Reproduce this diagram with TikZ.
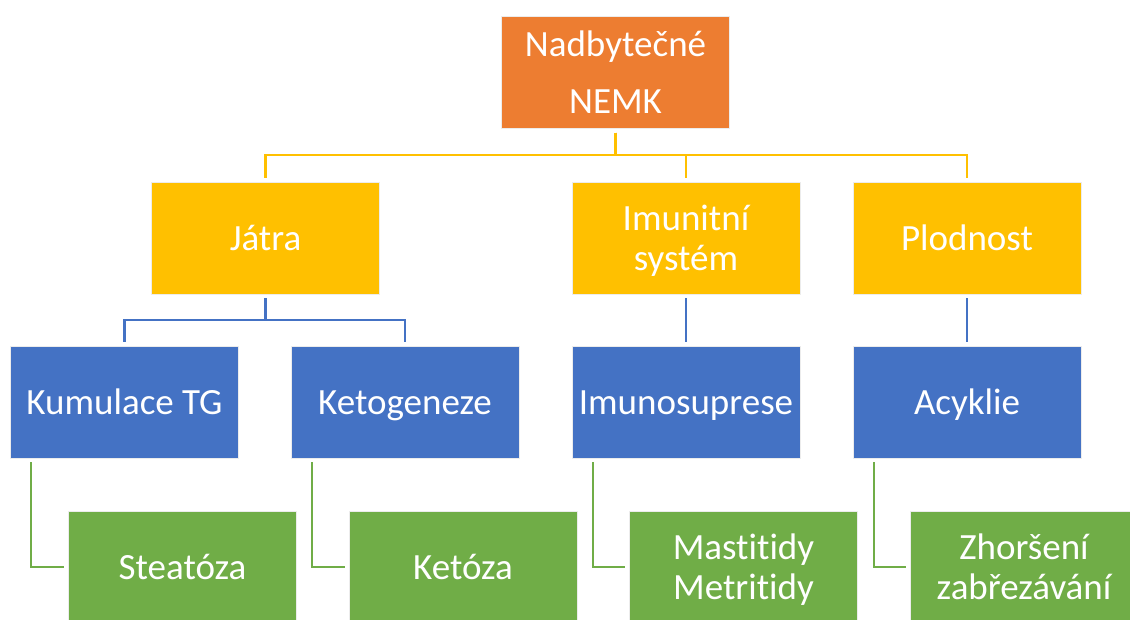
\documentclass[tikz,border=0pt]{standalone}
\usepackage{fontspec}
\setmainfont{Carlito}[Ligatures=NoCommon]
\usepackage{xcolor}
\usetikzlibrary{positioning}

\definecolor{orangeA}{HTML}{ED7D31}
\definecolor{yellowA}{HTML}{FFC000}
\definecolor{blueA}{HTML}{4472C4}
\definecolor{greenA}{HTML}{70AD47}

\begin{document}
\begin{tikzpicture}
                [x=1pt, y=-1pt,
                box/.style={draw=white!85!gray, line width=0.4pt, text=white,
                    minimum width=228pt, minimum height=112pt, inner sep=2pt,
                    text height=24pt, text depth=0pt,
                    align=center, font=\fontsize{37}{40}\selectfont},
                twolines/.style={text height=64pt},
                link/.style={line width=2.2pt, shorten <=4pt, shorten >=4pt},
                ]
                \clip (0,0) rectangle (1130,619);

                % top level
                \node[box, fill=orangeA, text height=81pt] (top) at (615.5,72.5) {Nadbytečné\\[17pt]NEMK};

                % second level
                \node[box, fill=yellowA] (jatra) at (265.5,238) {Játra};
                \node[box, twolines, fill=yellowA] (imun) at (686,238) {Imunitní\\systém};
                \node[box, fill=yellowA] (plod) at (967,238) {Plodnost};

                % third level
                \node[box, fill=blueA] (kum) at (124.5,402) {Kumulace TG};
                \node[box, fill=blueA] (keto) at (405,402) {Ketogeneze};
                \node[box, fill=blueA] (imsup) at (686,402) {Imunosuprese};
                \node[box, fill=blueA] (acyk) at (967,402) {Acyklie};

                % fourth level
                \node[box, fill=greenA] (steat) at (182.5,567) {Steatóza};
                \node[box, fill=greenA] (ketoz) at (463,567) {Ketóza};
                \node[box, twolines, fill=greenA] (mast) at (743.5,567) {Mastitidy\\Metritidy};
                \node[box, twolines, fill=greenA] (zhor) at (1024,567) {Zhoršení\\zabřezávání};

                \draw[link, yellowA] (top.south) -- ++(0,26) -| (jatra.north);
                \draw[link, yellowA] (top.south) -- ++(0,26) -| (imun.north);
                \draw[link, yellowA] (top.south) -- ++(0,26) -| (plod.north);

                \draw[link, blueA] (jatra.south) -- ++(0,26) -| (kum.north);
                \draw[link, blueA] (jatra.south) -- ++(0,26) -| (keto.north);
                \draw[link, blueA] (imun.south) -- (imsup.north);
                \draw[link, blueA] (plod.south) -- (acyk.north);

                \draw[link, greenA] ([xshift=21pt]kum.south west) |- (steat.west);
                \draw[link, greenA] ([xshift=21pt]keto.south west) |- (ketoz.west);
                \draw[link, greenA] ([xshift=21pt]imsup.south west) |- (mast.west);
                \draw[link, greenA] ([xshift=21pt]acyk.south west) |- (zhor.west);
            \end{tikzpicture}
\end{document}
